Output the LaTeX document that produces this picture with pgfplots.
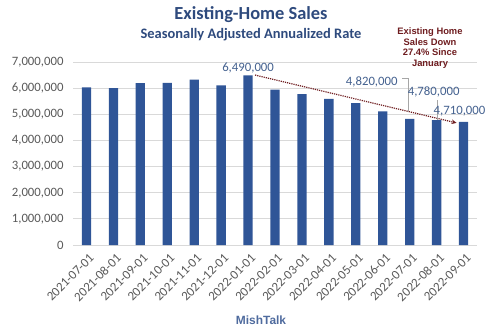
\documentclass[border=0pt]{standalone}
\usepackage{pgfplots}
\pgfplotsset{compat=1.18}
\usepackage{fontspec}
\setmainfont{Carlito}
\newfontfamily\arialfont{Liberation Sans}
\definecolor{barblue}{HTML}{2F5597}
\definecolor{titleblue}{HTML}{2E4A7D}
\definecolor{lblblue}{HTML}{44618F}
\definecolor{annred}{HTML}{6E1C1F}
\definecolor{ticktext}{HTML}{595959}
\definecolor{gridgray}{HTML}{D9D9D9}
\definecolor{mishblue}{HTML}{4F6B9E}
\usetikzlibrary{arrows.meta}
\begin{document}
\begin{tikzpicture}[x=1bp,y=1bp]
\path[use as bounding box] (0,0) rectangle (500,334);
\begin{axis}[
  at={(73bp,89bp)}, anchor=south west,
  scale only axis, width=404bp, height=183bp,
  xmin=-0.5, xmax=14.5, ymin=0, ymax=7000000,
  ybar, bar width=9.3bp,
  xtick={0,...,14},
  xticklabels={2021-07-01,2021-08-01,2021-09-01,2021-10-01,2021-11-01,2021-12-01,2022-01-01,2022-02-01,2022-03-01,2022-04-01,2022-05-01,2022-06-01,2022-07-01,2022-08-01,2022-09-01},
  x tick label style={rotate=45, anchor=north east, font=\fontsize{13}{13}\selectfont, text=ticktext, inner sep=1pt, yshift=-3bp},
  xtick style={draw=none},
  extra x ticks={-0.5,0.5,...,14.5},
  extra x tick labels={},
  extra x tick style={tick style={draw=gridgray, line width=0.8pt}, major tick length=5bp, tick align=outside, grid=none},
  ytick={0,1000000,...,7000000},
  yticklabels={0,{1,000,000},{2,000,000},{3,000,000},{4,000,000},{5,000,000},{6,000,000},{7,000,000}},
  y tick label style={font=\fontsize{12.8}{12.8}\selectfont, text=ticktext, xshift=-6bp},
  ytick style={draw=none},
  ymajorgrids, grid style={gridgray, line width=0.8pt},
  axis x line*=bottom, x axis line style={draw=gridgray, line width=0.8pt, -},
  axis y line*=left, y axis line style={draw=none},
  scaled y ticks=false,
  clip=false,
]
\addplot[fill=barblue, draw=none, bar shift=0pt] coordinates {
(0,6030000) (1,6000000) (2,6190000) (3,6200000) (4,6330000) (5,6110000) (6,6490000)
(7,5940000) (8,5770000) (9,5590000) (10,5430000) (11,5110000) (12,4820000) (13,4780000) (14,4710000)
};
\draw[annred, line width=1.2pt, densely dotted, -{Stealth[length=5bp,width=4.5bp]}] (axis cs:6.26,6500000) -- (axis cs:13.74,4670000);
\node[font=\fontsize{12.8}{12.8}\selectfont, text=lblblue] at (axis cs:6.0,6770000) {6,490,000};
\node[font=\fontsize{12.8}{12.8}\selectfont, text=lblblue, anchor=east] at (axis cs:11.68,6240000) {4,820,000};
\draw[gray!70, line width=0.6pt] (axis cs:11.72,6360000) -- (axis cs:11.94,6360000) -- (axis cs:11.94,5090000);
\node[font=\fontsize{12.8}{12.8}\selectfont, text=lblblue] at (axis cs:12.89,5840000) {4,780,000};
\draw[gray!70, line width=0.6pt] (axis cs:13.03,5550000) -- (axis cs:13.03,4800000);
\node[font=\fontsize{12.8}{12.8}\selectfont, text=lblblue] at (axis cs:13.85,5100000) {4,710,000};
\end{axis}
\node[font=\fontsize{18.5}{18.5}\selectfont\bfseries, text=titleblue] at (251,334-15) {Existing-Home Sales};
\node[font=\fontsize{14.5}{14.5}\selectfont\bfseries, text=titleblue] at (251,334-35) {Seasonally Adjusted Annualized Rate};
\node[font=\arialfont\fontsize{9.4}{10.5}\selectfont\bfseries, text=annred, align=center] at (430,334-48) {Existing Home\\Sales Down\\27.4\% Since\\January};
\node[font=\arialfont\fontsize{12}{12}\selectfont\bfseries, text=mishblue] at (261,334-320) {MishTalk};
\end{tikzpicture}
\end{document}
